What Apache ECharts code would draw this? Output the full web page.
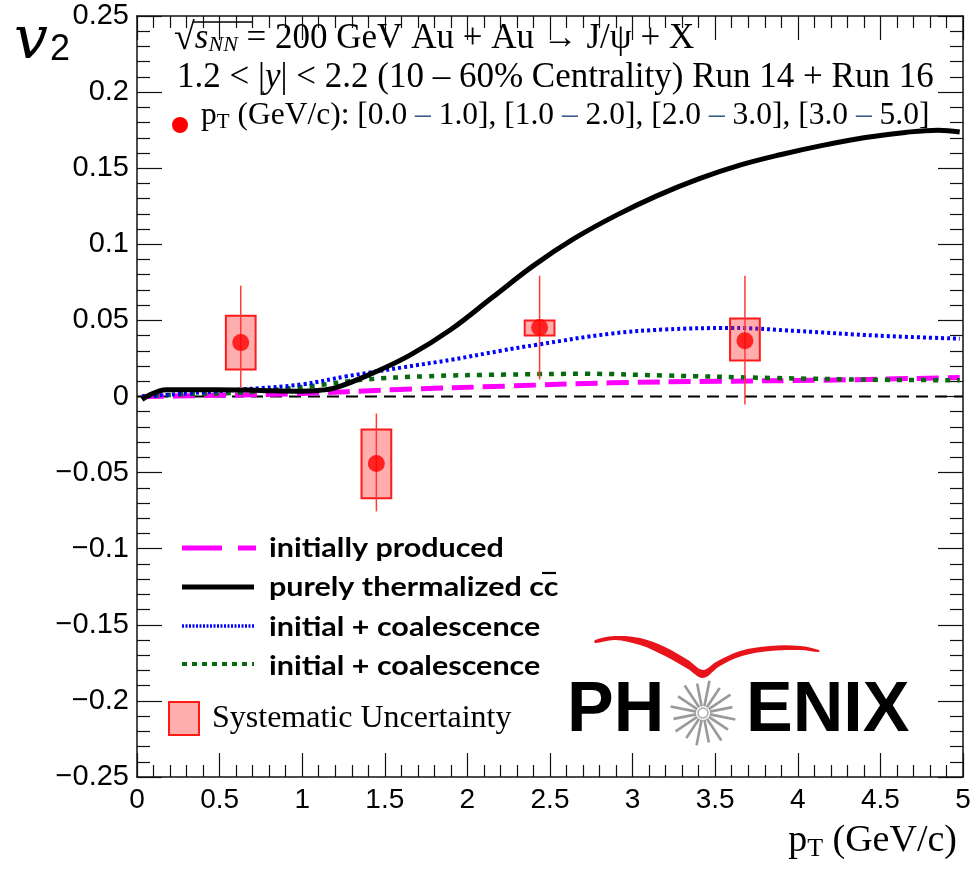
<!DOCTYPE html>
<html>
<head>
<meta charset="utf-8">
<script src="https://cdn.jsdelivr.net/npm/echarts@6/dist/echarts.min.js"></script>
<style>
html,body{margin:0;padding:0;background:#fff;}
#main{width:980px;height:870px;}
</style>
</head>
<body>
<div id="main"></div>
<script>
// ---- data ----
const ptCenters   = [0.628, 1.449, 2.437, 3.680];
const v2Values    = [0.0354, -0.0440, 0.0453, 0.0367];
const statLow     = [0.0059, -0.0755, 0.0112, -0.0052];
const statHigh    = [0.0728, -0.0112, 0.0794, 0.0794];
const sysLow      = [0.0177, -0.0669, 0.0400, 0.0236];
const sysHigh     = [0.0531, -0.0217, 0.0499, 0.0512];
const sysHalfWidth = 0.09; // pT half-width of systematic boxes

const initialCurve = [[0.03,0.0000],[0.50,0.0008],[0.95,0.0018],[1.59,0.0046],[2.23,0.0068],[2.87,0.0090],[3.52,0.0100],[4.16,0.0107],[4.98,0.0125]];
const thermalCurve = [[0.03,-0.0020],[0.18,0.0045],[0.47,0.0045],[0.75,0.0040],[0.95,0.0035],[1.10,0.0040],[1.21,0.0060],[1.43,0.0155],[1.65,0.0270],[1.90,0.0440],[2.15,0.0650],[2.40,0.0860],[2.65,0.1040],[2.90,0.1190],[3.15,0.1320],[3.40,0.1430],[3.65,0.1520],[3.90,0.1590],[4.15,0.1650],[4.40,0.1700],[4.65,0.1735],[4.85,0.1750],[4.98,0.1738]];
const coalBlueCurve = [[0.03,0.0000],[0.30,0.0020],[0.63,0.0046],[1.00,0.0080],[1.27,0.0133],[1.60,0.0190],[1.91,0.0243],[2.20,0.0300],[2.42,0.0340],[2.87,0.0413],[3.19,0.0440],[3.60,0.0450],[4.00,0.0430],[4.48,0.0400],[4.98,0.0380]];
const coalGreenCurve = [[0.03,0.0000],[0.30,0.0015],[0.63,0.0026],[1.05,0.0068],[1.37,0.0110],[1.75,0.0133],[2.23,0.0144],[2.72,0.0149],[3.19,0.0138],[3.84,0.0122],[4.48,0.0110],[4.98,0.0107]];
const zeroLine = [[0,0],[5,0]];

const xTickInterval = 0.5;
const yTickInterval = 0.05;

const legendLabels = ['initially produced', 'purely thermalized cc', 'initial + coalescence', 'initial + coalescence'];

// ---- chart ----
const chart = echarts.init(document.getElementById('main'), null, {renderer:'canvas'});

const pointsData = ptCenters.map((x,i)=>[x, v2Values[i]]);
const boxData = ptCenters.map((x,i)=>[x, sysLow[i], sysHigh[i], statLow[i], statHigh[i]]);

function fmtY(v){ const r = Math.round(v*100)/100; return String(r).replace('-', '\u2212'); }
function fmtX(v){ const r = Math.round(v*10)/10; return String(r); }

const axisLineStyle = {color:'#111', width:1.5};
const tickStyle = {color:'#111', width:1.2};

const serif = '"Liberation Serif", "Times New Roman", serif';
const sans = '"Liberation Sans", Arial, sans-serif';
const legendFont = 'Lato, "Open Sans", sans-serif';

const spokes = [];
for (let k=0;k<16;k++){
  const a = k*Math.PI/8 + Math.PI/16;
  const r0 = 7, r1 = (k%2===0)?33:30;
  spokes.push({type:'line', shape:{x1:703+r0*Math.cos(a), y1:713+r0*Math.sin(a), x2:703+r1*Math.cos(a), y2:713+r1*Math.sin(a)}, style:{stroke:'#9a9a9a', lineWidth:2.6}, z:10});
}

function legendText(i, y){
  return {type:'text', x:269, y:y, scaleX:1.13, style:{text:legendLabels[i], font:'bold 27px ' + legendFont, fill:'#000', verticalAlign:'middle'}, z:10};
}

const option = {
  animation:false,
  backgroundColor:'#fff',
  grid:{left:137, right:17, top:16, bottom:93, containLabel:false},
  xAxis:[{
    type:'value', min:0, max:5, interval:xTickInterval, position:'bottom',
    axisLine:{show:true, onZero:false, lineStyle:axisLineStyle},
    axisTick:{show:true, inside:true, length:24, lineStyle:tickStyle},
    minorTick:{show:true, splitNumber:5, length:12, lineStyle:tickStyle},
    splitLine:{show:false},
    axisLabel:{show:true, formatter:fmtX, fontFamily:sans, fontSize:28, color:'#000', margin:9, showMinLabel:true, showMaxLabel:true}
  },{
    type:'value', min:0, max:5, interval:xTickInterval, position:'top',
    axisLine:{show:true, onZero:false, lineStyle:axisLineStyle},
    axisTick:{show:true, inside:true, length:24, lineStyle:tickStyle},
    minorTick:{show:true, splitNumber:5, length:12, lineStyle:tickStyle},
    splitLine:{show:false}, axisLabel:{show:false}
  }],
  yAxis:[{
    type:'value', min:-0.25, max:0.25, interval:yTickInterval, position:'left',
    axisLine:{show:true, onZero:false, lineStyle:axisLineStyle},
    axisTick:{show:true, inside:true, length:25, lineStyle:tickStyle},
    minorTick:{show:true, splitNumber:5, length:13, lineStyle:tickStyle},
    splitLine:{show:false},
    axisLabel:{show:true, formatter:fmtY, fontFamily:sans, fontSize:29, color:'#000', margin:8, showMinLabel:true, showMaxLabel:true}
  },{
    type:'value', min:-0.25, max:0.25, interval:yTickInterval, position:'right',
    axisLine:{show:true, onZero:false, lineStyle:axisLineStyle},
    axisTick:{show:true, inside:true, length:25, lineStyle:tickStyle},
    minorTick:{show:true, splitNumber:5, length:13, lineStyle:tickStyle},
    splitLine:{show:false}, axisLabel:{show:false}
  }],
  series:[
    {type:'line', data:zeroLine, symbol:'none', lineStyle:{color:'#000', width:2, type:[12,7]}, z:1},
    {type:'line', data:initialCurve, smooth:0.4, symbol:'none', lineStyle:{color:'#ff00ff', width:5, type:[22,9]}, z:2},
    {type:'line', data:coalGreenCurve, smooth:0.4, symbol:'none', lineStyle:{color:'#086a0e', width:4.5, type:[5,7]}, z:2},
    {type:'line', data:coalBlueCurve, smooth:0.4, symbol:'none', lineStyle:{color:'#0000ff', width:4, type:[3,3]}, z:2},
    {type:'line', data:thermalCurve, smooth:0.4, symbol:'none', lineStyle:{color:'#000', width:5}, z:3},
    {type:'custom', data:boxData, z:4,
      renderItem:function(params, api){
        const x = api.value(0);
        const pL = api.coord([x - sysHalfWidth, api.value(2)]);
        const pR = api.coord([x + sysHalfWidth, api.value(1)]);
        const sT = api.coord([x, api.value(4)]);
        const sB = api.coord([x, api.value(3)]);
        return {type:'group', children:[
          {type:'rect', shape:{x:pL[0], y:pL[1], width:pR[0]-pL[0], height:pR[1]-pL[1]}, style:{fill:'rgba(255,40,40,0.38)', stroke:'#ff1a1a', lineWidth:2}},
          {type:'line', shape:{x1:sT[0], y1:sT[1], x2:sB[0], y2:sB[1]}, style:{stroke:'#ff3b3b', lineWidth:1.5}}
        ]};
      }
    },
    {type:'scatter', data:pointsData, symbol:'circle', symbolSize:17, itemStyle:{color:'#ff0000'}, z:5}
  ],
  graphic:[
    // y axis title
    {type:'text', x:14, y:12, style:{text:'v', font:'italic 60px "DejaVu Serif", serif', fill:'#000'}, z:10},
    {type:'text', x:50, y:32, style:{text:'2', font:'36px ' + sans, fill:'#000'}, z:10},
    // x axis title
    {type:'text', x:957, y:862, style:{text:'{m|p}{s|T}{m| (GeV/c)}', align:'right', verticalAlign:'bottom',
      rich:{m:{font:'38px ' + serif, fill:'#000'}, s:{font:'26px ' + serif, fill:'#000', padding:[16,0,0,0]}}}, z:10},
    // header lines
    {type:'text', x:174, y:39, style:{text:'{q|\u221a}{i|s}{n|NN}{r| = 200 GeV Au + Au \u2192 J/\u03c8 + X}', verticalAlign:'middle',
      rich:{q:{font:'38px ' + serif, fill:'#000'}, r:{font:'35px ' + serif, fill:'#000'}, i:{font:'italic 35px ' + serif, fill:'#000'}, n:{font:'italic 22px ' + serif, fill:'#000', padding:[12,0,0,0]}}}, z:10},
    {type:'line', shape:{x1:193, y1:22, x2:252, y2:22}, style:{stroke:'#000', lineWidth:1.5}, z:10},
    {type:'text', x:177, y:78, style:{text:'{r|1.2 < |}{i|y}{r|| < 2.2 (10 \u2013 60% Centrality) Run 14 + Run 16}', verticalAlign:'middle',
      rich:{r:{font:'35px ' + serif, fill:'#000'}, i:{font:'italic 35px ' + serif, fill:'#000'}}}, z:10},
    {type:'circle', shape:{cx:180, cy:125, r:8}, style:{fill:'#ff0000'}, z:10},
    {type:'text', x:201, y:116, style:{text:'{r|p}{s|T}{r| (GeV/c): [0.0 }{d|\u2013}{r| 1.0], [1.0 }{d|\u2013}{r| 2.0], [2.0 }{d|\u2013}{r| 3.0], [3.0 }{d|\u2013}{r| 5.0]}', verticalAlign:'middle',
      rich:{r:{font:'31.5px ' + serif, fill:'#000'}, s:{font:'21px ' + serif, fill:'#000', padding:[12,0,0,0]}, d:{font:'31.5px ' + serif, fill:'#3a5a8a'}}}, z:10},
    // legend samples
    {type:'line', shape:{x1:182, y1:548, x2:256, y2:548}, style:{stroke:'#ff00ff', lineWidth:5, lineDash:[40,16]}, z:10},
    {type:'line', shape:{x1:182, y1:587, x2:254, y2:587}, style:{stroke:'#000', lineWidth:5}, z:10},
    {type:'line', shape:{x1:182, y1:626, x2:254, y2:626}, style:{stroke:'#0000ff', lineWidth:3.5, lineDash:[2,1.5]}, z:10},
    {type:'line', shape:{x1:182, y1:664, x2:254, y2:664}, style:{stroke:'#086a0e', lineWidth:4, lineDash:[5,5]}, z:10},
    legendText(0, 548), legendText(1, 587), legendText(2, 627), legendText(3, 666),
    {type:'line', shape:{x1:542, y1:573, x2:556, y2:573}, style:{stroke:'#000', lineWidth:2.2}, z:10},
    {type:'rect', shape:{x:169, y:702, width:30, height:33}, style:{fill:'rgba(255,40,40,0.38)', stroke:'#ff1a1a', lineWidth:2}, z:10},
    {type:'text', x:212, y:719, style:{text:'Systematic Uncertainty', font:'32px ' + serif, fill:'#000', verticalAlign:'middle'}, z:10},
    // PHENIX logo
    {type:'text', x:567, y:712, style:{text:'PH', font:'bold 70px ' + sans, fill:'#000', verticalAlign:'middle'}, z:10},
    {type:'text', x:746, y:712, style:{text:'ENIX', font:'bold 70px ' + sans, fill:'#000', verticalAlign:'middle'}, z:10},
    ...spokes,
    {type:'circle', shape:{cx:703, cy:713, r:5}, style:{fill:'#fff', stroke:'#aaa', lineWidth:1.5}, z:11},
    {type:'polygon', shape:{smooth:0.35, points:[[595,640],[615,636],[640,638],[665,647],[688,660],[703,670],[716,662],[740,651],[770,646],[800,646],[819,650],[819,652],[800,650],[770,651],[742,656],[720,666],[703,678],[688,669],[663,655],[640,645],[615,640],[595,643]]}, style:{fill:'#e8141c'}, z:10}
  ]
};
chart.setOption(option);
</script>
</body>
</html>
